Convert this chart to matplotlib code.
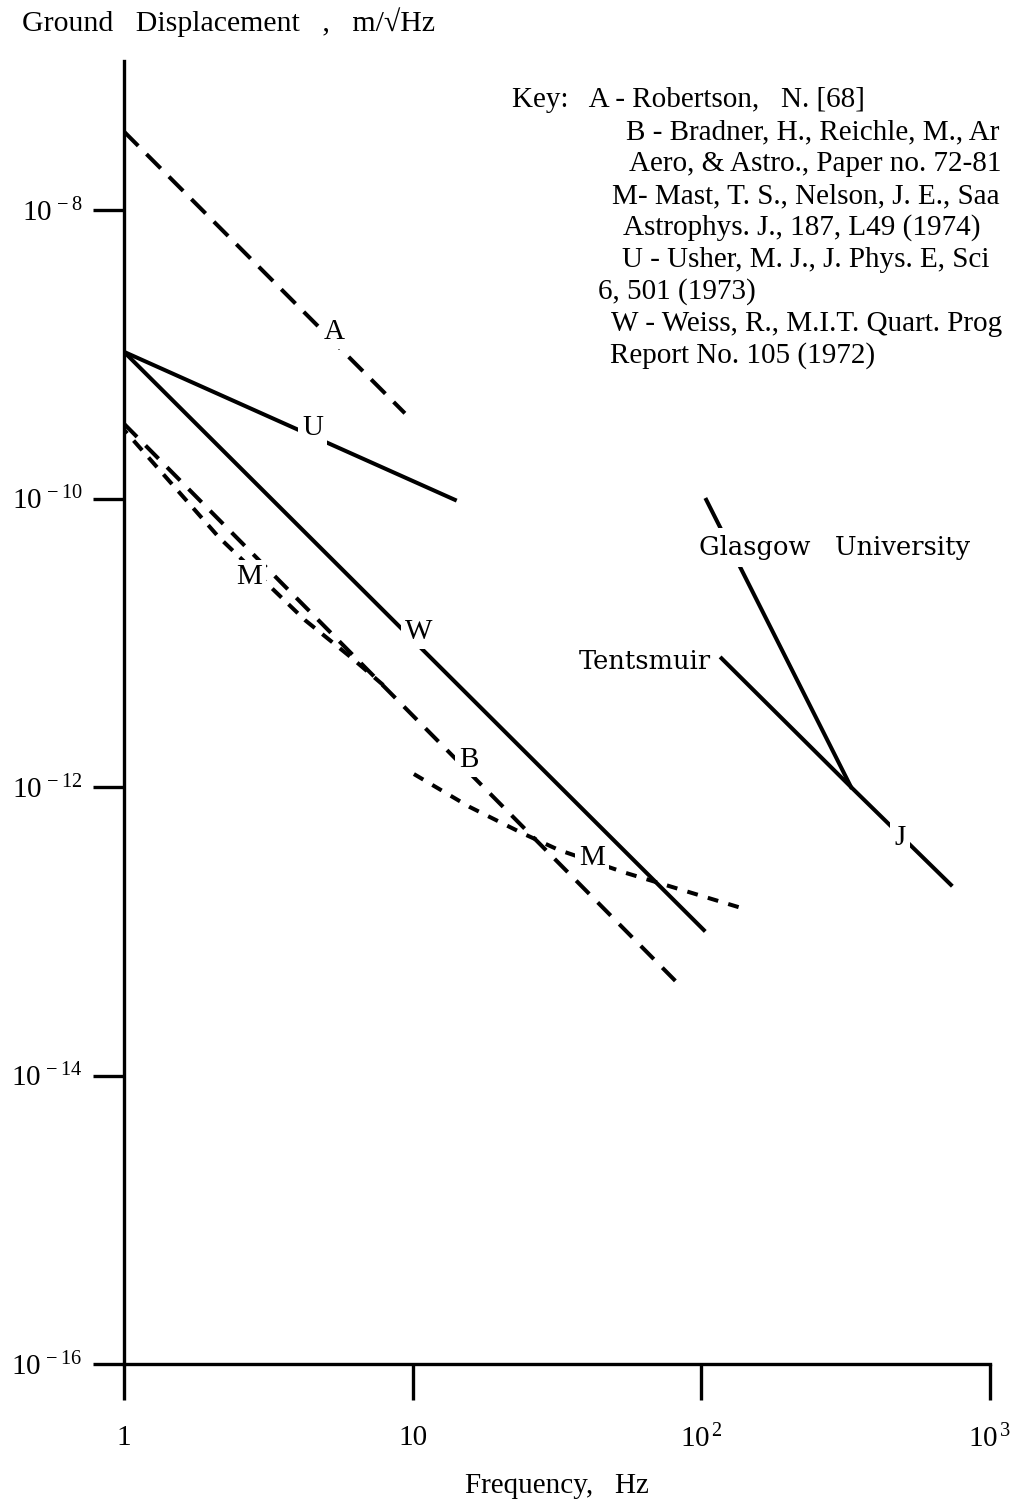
import numpy as np
import matplotlib
matplotlib.use("Agg")
import matplotlib.pyplot as plt
from matplotlib.ticker import FixedLocator, FixedFormatter, NullLocator

plt.rcParams['font.family'] = ['Liberation Serif', 'DejaVu Serif']
plt.rcParams['mathtext.fontset'] = 'custom'
plt.rcParams['mathtext.rm'] = 'Liberation Serif'
plt.rcParams['mathtext.it'] = 'Liberation Serif:italic'

# ground noise curves, frequency in Hz, displacement in m/sqrt(Hz)
a_freq = [1.0, 9.4]
a_disp = [3.5e-8, 3.9e-10]
u_freq = [1.0, 14.0]
u_disp = [1.04e-9, 9.8e-11]
w_freq = [1.0, 102.0]
w_disp = [1.04e-9, 1.02e-13]
b_freq = [1.0, 85.4]
b_disp = [3.3e-10, 4.1e-14]
m_low_freq = [1.0, 2.13, 4.23, 6.1, 7.9]
m_low_disp = [3.0e-10, 5.4e-11, 1.44e-11, 7.96e-12, 5.1e-12]
m_high_freq = [10.1, 15.7, 23.9, 32.1, 54.7, 137.7]
m_high_disp = [1.23e-12, 7.3e-13, 4.8e-13, 3.66e-13, 2.54e-13, 1.45e-13]
glasgow_freq = [104.0, 330.0]
glasgow_disp = [9.8e-11, 1.0e-12]
tents_freq = [117.5, 330.0, 732.0]
tents_disp = [7.8e-12, 1.0e-12, 2.1e-13]

# curve letters and where they sit
curve_labels = ['A', 'U', 'W', 'M', 'B', 'M', 'J']
label_freq = [5.36, 4.5, 10.5, 2.72, 15.6, 41.8, 488.0]
label_disp = [1.43e-9, 3.1e-10, 1.19e-11, 2.86e-11, 1.54e-12, 3.2e-13, 4.4e-13]

# key text, runs off the right edge of the page
key_lines = [
    "Key:   A - Robertson,   N. [68]",
    "B - Bradner, H., Reichle, M., Ar",
    "Aero, & Astro., Paper no. 72-81",
    "M- Mast, T. S., Nelson, J. E., Saa",
    "Astrophys. J., 187, L49 (1974)",
    "U - Usher, M. J., J. Phys. E, Sci",
    "6, 501 (1973)",
    "W - Weiss, R., M.I.T. Quart. Prog",
    "Report No. 105 (1972)",
]
key_x = [512, 626, 629, 612, 623, 622, 598, 611, 610]

xticks = [1, 10, 100, 1000]
xtick_labels = ['1', '10', r'$10^{\,2}$', r'$10^{\,3}$']
yticks = [1e-16, 1e-14, 1e-12, 1e-10, 1e-8]
ytick_labels = [r'$10^{\,-16}$', r'$10^{\,-14}$', r'$10^{\,-12}$', r'$10^{\,-10}$', r'$10^{\,-8}$']

fig = plt.figure(figsize=(10.18, 15.02), dpi=100)
ax = fig.add_axes([124/1018, 138/1502, 866/1018, 1303/1502])
ax.set_xscale('log')
ax.set_yscale('log')
ax.set_xlim(1, 1000)
ax.set_ylim(1e-16, 1.08e-7)

lw = 2.9
ax.plot(a_freq, a_disp, color='black', lw=lw, linestyle=(0, (5.0, 2.9)))
ax.plot(u_freq, u_disp, color='black', lw=lw)
ax.plot(w_freq, w_disp, color='black', lw=lw)
ax.plot(b_freq, b_disp, color='black', lw=lw, linestyle=(0, (4.6, 3.0)))
ax.plot(m_low_freq, m_low_disp, color='black', lw=lw, linestyle=(2, (3.2, 2.4)))
ax.plot(m_high_freq, m_high_disp, color='black', lw=lw, linestyle=(0, (2.7, 2.6)))
ax.plot(glasgow_freq, glasgow_disp, color='black', lw=lw)
ax.plot(tents_freq, tents_disp, color='black', lw=lw)

for name, f, d in zip(curve_labels, label_freq, label_disp):
    ax.text(f, d, name, fontsize=21, ha='center', va='center', zorder=5,
            bbox=dict(fc='white', ec='none', pad=3))

ax.text(97.8, 4.6e-11, "Glasgow   University", fontsize=18.5, ha='left', va='center',
        family=['DejaVu Serif'], zorder=5, bbox=dict(fc='white', ec='none', pad=5))
ax.text(108, 7.36e-12, "Tentsmuir", fontsize=18.5, ha='right', va='center',
        family=['DejaVu Serif'], zorder=5)

for spine in ['top', 'right']:
    ax.spines[spine].set_visible(False)
for spine in ['left', 'bottom']:
    ax.spines[spine].set_linewidth(2.4)

ax.xaxis.set_major_locator(FixedLocator(xticks))
ax.xaxis.set_major_formatter(FixedFormatter(xtick_labels))
ax.yaxis.set_major_locator(FixedLocator(yticks))
ax.yaxis.set_major_formatter(FixedFormatter(ytick_labels))
ax.xaxis.set_minor_locator(NullLocator())
ax.yaxis.set_minor_locator(NullLocator())
ax.tick_params(axis='x', direction='out', length=26, width=2.4, pad=18, labelsize=21)
ax.tick_params(axis='y', direction='out', length=22, width=2.4, pad=8, labelsize=21)

ax.set_xlabel("Frequency,   Hz", fontsize=21, labelpad=14)

fig.text(22/1018, 1 - 22/1502, "Ground   Displacement   ,   m/√Hz", fontsize=21.5,
         ha='left', va='center')

for i, (x, line) in enumerate(zip(key_x, key_lines)):
    fig.text(x/1018, 1 - (100 + 32*i)/1502, line, fontsize=21, ha='left', va='center')

fig.savefig("out.png", dpi=100)
